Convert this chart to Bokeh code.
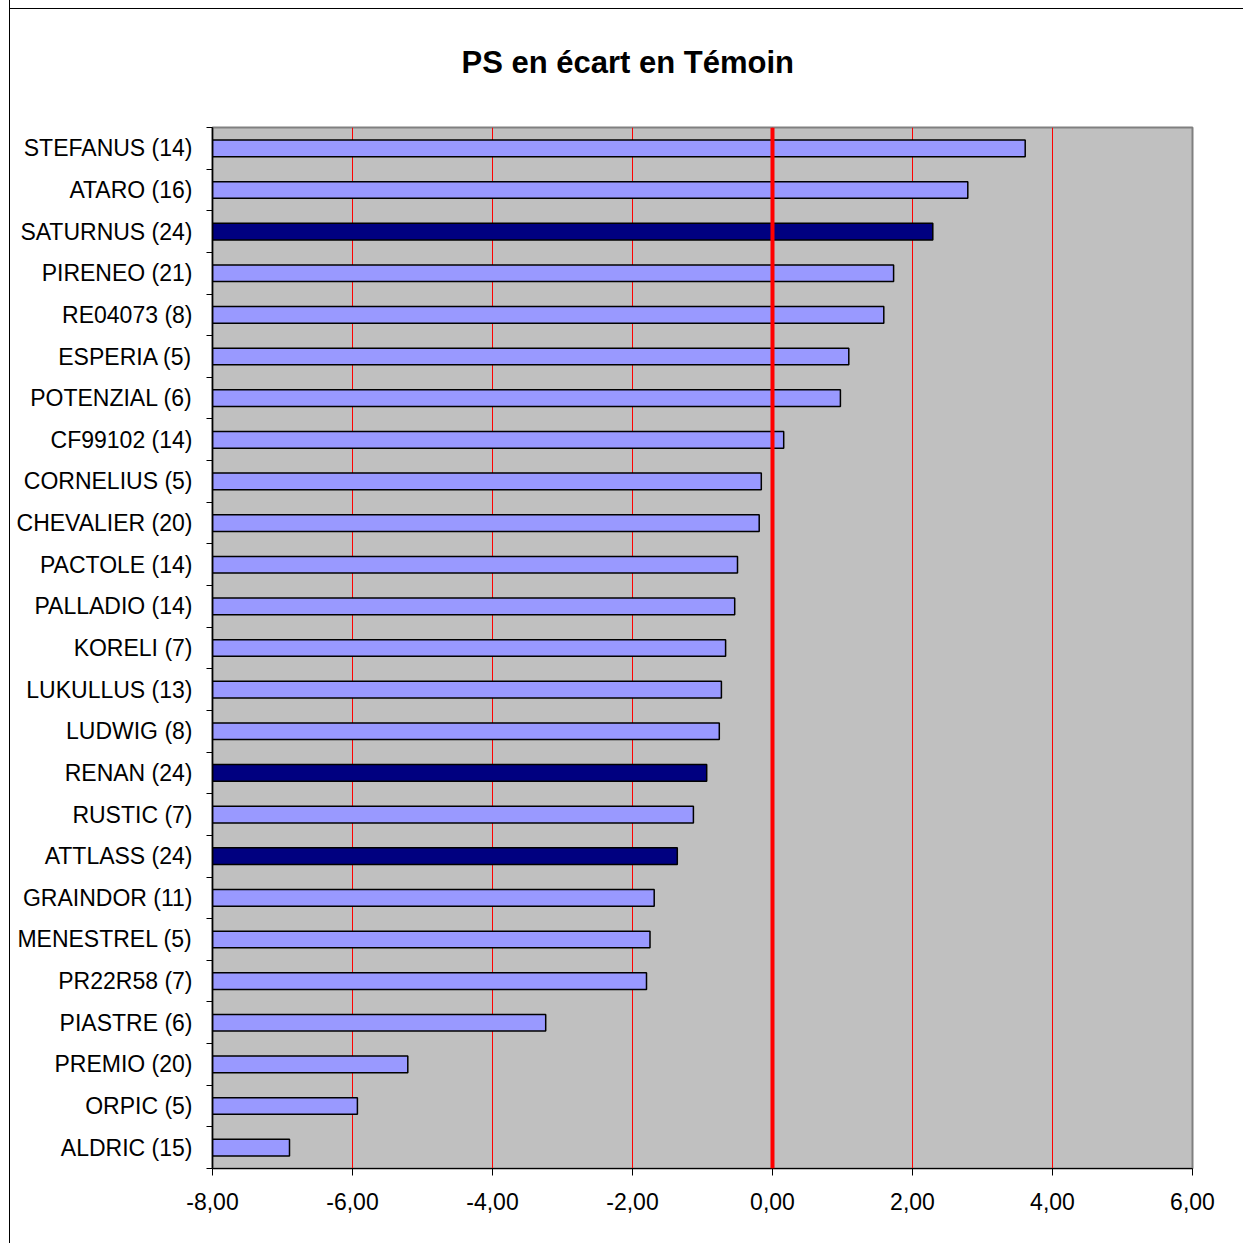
import numpy as np
from bokeh.plotting import figure
from bokeh.models import ColumnDataSource, FixedTicker, Range1d, Span
from bokeh.embed import file_html
from bokeh.resources import INLINE

title_text = "PS en écart en Témoin"
categories = ["STEFANUS (14)", "ATARO (16)", "SATURNUS (24)", "PIRENEO (21)",
              "RE04073 (8)", "ESPERIA (5)", "POTENZIAL (6)", "CF99102 (14)",
              "CORNELIUS (5)", "CHEVALIER (20)", "PACTOLE (14)", "PALLADIO (14)",
              "KORELI (7)", "LUKULLUS (13)", "LUDWIG (8)", "RENAN (24)",
              "RUSTIC (7)", "ATTLASS (24)", "GRAINDOR (11)", "MENESTREL (5)",
              "PR22R58 (7)", "PIASTRE (6)", "PREMIO (20)", "ORPIC (5)", "ALDRIC (15)"]
values = [3.61, 2.79, 2.29, 1.73, 1.59, 1.09, 0.97, 0.16, -0.16, -0.19,
          -0.50, -0.54, -0.67, -0.73, -0.76, -0.94, -1.13, -1.36, -1.69,
          -1.75, -1.80, -3.24, -5.21, -5.93, -6.90]
highlighted = ["SATURNUS (24)", "RENAN (24)", "ATTLASS (24)"]
x_ticks = [-8, -6, -4, -2, 0, 2, 4, 6]

LIGHT = "#9999FF"
DARK = "#000080"
FONT = "Liberation Sans"

n = len(categories)
x_min, x_max = x_ticks[0], x_ticks[-1]
ypos = [n - 1 - i for i in range(n)]
colors = [DARK if c in highlighted else LIGHT for c in categories]

src = ColumnDataSource(dict(y=ypos, right=values, left=[x_min] * n, color=colors, name=categories))

p = figure(width=1234, height=1248, output_backend="svg", toolbar_location=None,
           x_range=Range1d(x_min, x_max), y_range=Range1d(-0.5, n - 0.5),
           min_border_left=202, min_border_top=132, min_border_right=52, min_border_bottom=75)
# outer chart-area frame: left edge as a border, top edge as a 1px background stripe
p.styles = {"margin-left": "9px", "margin-top": "-5px",
            "border-left": "1px solid black",
            "background": "white linear-gradient(#000000, #000000) no-repeat 0px 13px / 100% 1px"}

p.title.text = title_text
p.title.align = "left"
p.title.offset = 249
p.title.standoff = 95
p.title.text_font = FONT
p.title.text_font_size = "31px"
p.title.text_font_style = "bold"
p.title.text_color = "black"

p.background_fill_color = "#C0C0C0"
p.border_fill_color = None
p.outline_line_color = "#808080"
p.outline_line_width = 2

p.hbar(y="y", left="left", right="right", height=0.4, fill_color="color",
       line_color="black", line_width=1.5, source=src)

p.add_layout(Span(location=0, dimension="height", line_color="#FF0000", line_width=4))

# x axis
p.xaxis.ticker = FixedTicker(ticks=x_ticks)
p.xaxis.major_label_overrides = {t: f"{t:.2f}".replace(".", ",") for t in x_ticks}
p.xaxis.major_tick_out = 7
p.xaxis.major_tick_in = 0
p.xaxis.minor_tick_line_color = None
p.xaxis.axis_line_color = "black"
p.xaxis.major_tick_line_color = "black"
p.xaxis.major_label_text_font = FONT
p.xaxis.major_label_text_font_size = "23px"
p.xaxis.major_label_text_color = "black"
p.xaxis.major_label_standoff = 17

# y axis
p.yaxis.ticker = FixedTicker(ticks=ypos, minor_ticks=[k - 0.5 for k in range(n + 1)])
p.yaxis.major_label_overrides = {y: c for y, c in zip(ypos, categories)}
p.yaxis.major_tick_out = 0
p.yaxis.major_tick_in = 0
p.yaxis.minor_tick_out = 6
p.yaxis.minor_tick_in = 0
p.yaxis.minor_tick_line_color = "black"
p.yaxis.axis_line_color = "black"
p.yaxis.axis_line_width = 1.5
p.yaxis.major_label_text_font = FONT
p.yaxis.major_label_text_font_size = "23px"
p.yaxis.major_label_text_color = "black"
p.yaxis.major_label_standoff = 14

p.xgrid.ticker = FixedTicker(ticks=x_ticks[1:-1])
p.xgrid.grid_line_color = "#FF0000"
p.xgrid.grid_line_width = 1
p.ygrid.visible = False

open("out.html", "w").write(file_html(p, INLINE))
